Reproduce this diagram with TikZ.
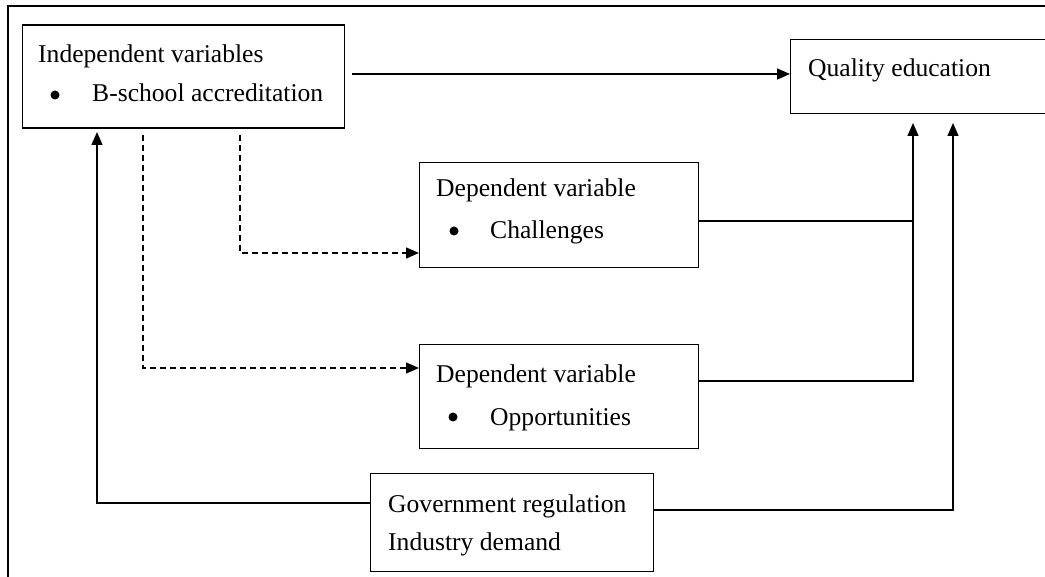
\documentclass[tikz,border=0pt]{standalone}
\usepackage{fontspec}
\setmainfont{Liberation Serif}
\usetikzlibrary{arrows.meta}
\tikzset{
  box/.style={draw, line width=1.4pt, rectangle, inner sep=0pt, anchor=north west},
  txt/.style={anchor=base west, inner sep=0pt, font=\fontsize{25.6}{30}\selectfont},
  dot/.style={circle, fill, inner sep=0pt, minimum size=9pt},
  link/.style={line width=1.4pt},
  arr/.style={line width=1.4pt, -{Triangle[length=13pt,width=11pt]}},
  darr/.style={line width=1.4pt, dash pattern=on 6pt off 4pt, -{Triangle[length=13pt,width=11pt]}}
}
\begin{document}
\begin{tikzpicture}[x=1pt,y=-1pt]
\useasboundingbox (0,0) rectangle (1045,577);
\clip (0,0) rectangle (1045,577);
% outer frame (only top and left visible)
\draw[line width=1.4pt] (8,6) rectangle (1070,600);

% boxes
\node[box, minimum width=322pt, minimum height=103pt] (iv) at (21.5,24.5) {};
\node[box, minimum width=270pt, minimum height=74pt] (qe) at (790,39) {};
\node[box, minimum width=279pt, minimum height=105pt] (ch) at (419,162) {};
\node[box, minimum width=279pt, minimum height=104pt] (op) at (419,344) {};
\node[box, minimum width=283pt, minimum height=98pt] (gov) at (370,473) {};

% texts
\node[txt] (t1) at (38,63) {Independent variables};
\node[dot] (b1) at (55,95) {};
\node[txt] (t2) at (92,102) {B-school accreditation};
\node[txt] (t3) at (808,77) {Quality education};
\node[txt] (t4) at (436,197) {Dependent variable};
\node[dot] (b2) at (454,231) {};
\node[txt] (t5) at (490,239) {Challenges};
\node[txt] (t6) at (436,383) {Dependent variable};
\node[dot] (b3) at (453,417) {};
\node[txt] (t7) at (490,425) {Opportunities};
\node[txt] (t8) at (388,512) {Government regulation};
\node[txt] (t9) at (388,550) {Industry demand};

% coordinates for bends
\coordinate (ivs) at (352,74);
\coordinate (d1a) at (240,135);
\coordinate (d1b) at (240,253);
\coordinate (d2a) at (143,135);
\coordinate (d2b) at (143,368);
\coordinate (c1) at (913,221);
\coordinate (c2) at (913,381);
\coordinate (c3) at (913,123);
\coordinate (g1) at (953,510);
\coordinate (g2) at (953,123);
\coordinate (l1) at (97,503);
\coordinate (l2) at (97,132);

% connectors
\draw[arr] (ivs) -- (qe.west |- ivs);
\draw[darr] (d1a) -- (d1b) -- (ch.west |- d1b);
\draw[darr] (d2a) -- (d2b) -- (op.west |- d2b);
\draw[link] (ch.east |- c1) -- (c1);
\draw[arr] (op.east |- c2) -- (c2) -- (c3);
\draw[arr] (gov.east |- g1) -- (g1) -- (g2);
\draw[arr] (gov.west |- l1) -- (l1) -- (l2);
\end{tikzpicture}
\end{document}
